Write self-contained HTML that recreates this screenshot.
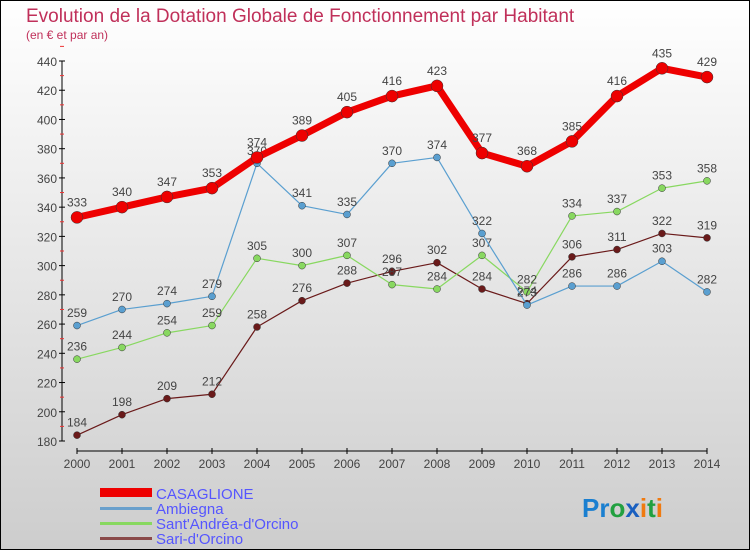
<!DOCTYPE html>
<html><head><meta charset="utf-8"><style>
body{margin:0}
#c{width:750px;height:550px;position:relative;overflow:hidden;box-sizing:border-box;border:1px solid #000;background:linear-gradient(#fff,#cdcdcd);font-family:"Liberation Sans",sans-serif}
</style></head><body>
<div id="c">
<svg id="s" width="750" height="550" style="position:absolute;left:-1px;top:-1px">
<text x="26" y="22" font-size="19" fill="#c0305a">Evolution de la Dotation Globale de Fonctionnement par Habitant</text>
<text x="26" y="39" font-size="12" fill="#c0305a">(en € et par an)</text>
<g id="axes"></g><g id="series"></g>
<g>
<rect x="100" y="488" width="52" height="9" fill="#ee0000"/>
<text x="156" y="499" font-size="15" fill="#5555ff">CASAGLIONE</text>
<rect x="100" y="507" width="52" height="3" fill="#6aa0cc"/>
<text x="156" y="514" font-size="15" fill="#5555ff">Ambiegna</text>
<rect x="100" y="522" width="52" height="3" fill="#88d860"/>
<text x="156" y="529" font-size="15" fill="#5555ff">Sant'Andréa-d'Orcino</text>
<rect x="100" y="537" width="52" height="3" fill="#8a4a4a"/>
<text x="156" y="544" font-size="15" fill="#5555ff">Sari-d'Orcino</text>
</g>
<text x="582" y="517" font-size="26" font-weight="bold"><tspan fill="#1a7fd0">Pr</tspan><tspan fill="#22a040">o</tspan><tspan fill="#1a60c0">x</tspan><tspan fill="#f07a10">i</tspan><tspan fill="#22a040">t</tspan><tspan fill="#f07a10">i</tspan></text>
</svg></div>
<script>
const years=[2000,2001,2002,2003,2004,2005,2006,2007,2008,2009,2010,2011,2012,2013,2014];
const yTicks=[180,200,220,240,260,280,300,320,340,360,380,400,420,440];
const casaglione=[333,340,347,353,374,389,405,416,423,377,368,385,416,435,429];
const ambiegna=[259,270,274,279,370,341,335,370,374,322,273,286,286,303,282];
const santAndrea=[236,244,254,259,305,300,307,287,284,307,282,334,337,353,358];
const sari=[184,198,209,212,258,276,288,296,302,284,274,306,311,322,319];
const NS="http://www.w3.org/2000/svg";
function X(i){return 77+i*45;}
function Y(v){return 441-(v-180)*(380/260);}
function mk(tag,attrs,parent){const e=document.createElementNS(NS,tag);for(const k in attrs)e.setAttribute(k,attrs[k]);parent.appendChild(e);return e;}
const ax=document.getElementById('axes');
let yl=mk('line',{x1:62,y1:Y(440),x2:62,y2:Y(180),stroke:'#000'},ax);


yTicks.forEach(t=>{
 mk('line',{x1:59,x2:65,y1:Y(t),y2:Y(t),stroke:'#000'},ax);
 mk('line',{x1:60,x2:64,y1:Y(t+10),y2:Y(t+10),stroke:'#e33'},ax);
 const tx=mk('text',{x:57,y:Y(t)+5,'font-size':12,'text-anchor':'end',fill:'#444'},ax);
 
 
 tx.textContent=t;
});
let xl=mk('line',{x1:X(0),y1:451,x2:X(14),y2:451,stroke:'#000'},ax);


years.forEach((y,i)=>{
 mk('line',{x1:X(i),x2:X(i),y1:448,y2:454,stroke:'#000'},ax);
 const tx=mk('text',{x:X(i),y:468,'font-size':12,'text-anchor':'middle',fill:'#444'},ax);
 
 
 tx.textContent=y;
});
const sg=document.getElementById('series');
function draw(data,color,w,r,name){
 const g=mk('g',{},sg);
 
 
 const pl=mk('polyline',{points:data.map((v,i)=>X(i)+','+Y(v)).join(' '),fill:'none',stroke:color,'stroke-width':w,'stroke-linejoin':'round'},g);
 
 
 data.forEach((v,i)=>{
  const c=mk('circle',{cx:X(i),cy:Y(v),r:r,fill:color,stroke:'#333','stroke-width':0.5},g);
  
  
  const t=mk('text',{x:X(i),y:Y(v)-(r+5),'font-size':12,'text-anchor':'middle',fill:'#444'},g);
  
  
  t.textContent=v;
 });
}
draw(sari,'#6a1a1a',1.2,3.5,'sari');
draw(santAndrea,'#88d860',1.2,3.5,'sant-andrea');
draw(ambiegna,'#5a9fd0',1.2,3.5,'ambiegna');
draw(casaglione,'#ee0000',7,6,'casaglione');
</script>
</body></html>
